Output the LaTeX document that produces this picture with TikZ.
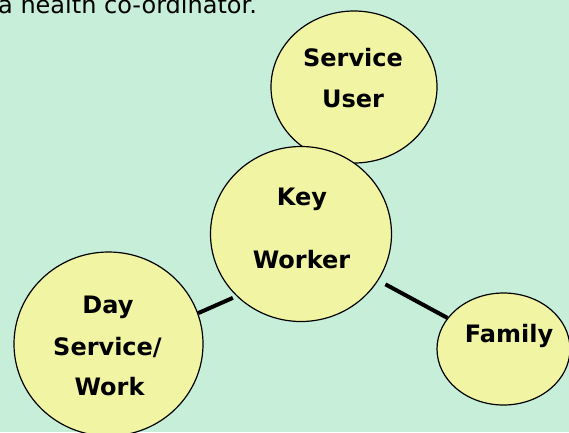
\documentclass[tikz,border=0pt]{standalone}
\usepackage{fontspec}
\setmainfont{DejaVu Sans}
\usetikzlibrary{shapes.geometric}
\definecolor{backgreen}{RGB}{199,238,216}
\definecolor{bubbleyellow}{RGB}{241,245,163}
\tikzset{
    bubble/.style={ellipse, draw=black, line width=1.2pt, fill=bubbleyellow, inner sep=0pt},
    lbl/.style={font=\fontsize{24}{24}\selectfont\bfseries, anchor=base, inner sep=0pt},
    link/.style={black, line width=4pt}
}
\begin{document}
\begin{tikzpicture}[x=1pt,y=-1pt]
        \clip (0,0) rectangle (569,432);
        \fill[backgreen] (0,0) rectangle (569,432);
        \node[anchor=base west, inner sep=0pt, font=\fontsize{24}{24}\selectfont] (intro) at (-2,13) {a health co-ordinator.};
        % bubbles
        \node[bubble, minimum width=166pt, minimum height=152pt] (user) at (354,87) {};
        \node[bubble, minimum width=181pt, minimum height=175pt] (key) at (301,234) {};
        \node[bubble, minimum width=189pt, minimum height=184pt] (day) at (108.5,344) {};
        \node[bubble, minimum width=133pt, minimum height=112pt] (family) at (503.5,349) {};
        % links
        \draw[link, shorten <=4pt] (key.224) -- (day.19);
        \draw[link, shorten <=8pt] (key.-31) -- (family.151);
        % labels
        \node[lbl] (user-a) at (353,66) {Service};
        \node[lbl] (user-b) at (353,107) {User};
        \node[lbl] (key-a) at (302,205) {Key};
        \node[lbl] (key-b) at (301.5,268) {Worker};
        \node[lbl] (day-a) at (108,313) {Day};
        \node[lbl] (day-b) at (107.5,355) {Service/};
        \node[lbl] (day-c) at (109.5,395) {Work};
        \node[lbl] (family-a) at (509,342) {Family};
    \end{tikzpicture}
\end{document}
